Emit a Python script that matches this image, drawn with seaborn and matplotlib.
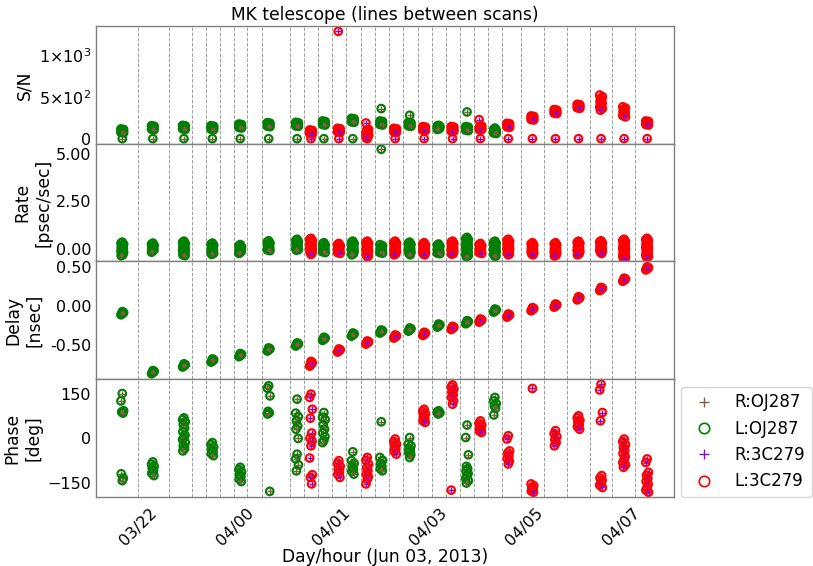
import numpy as np
import pandas as pd
import matplotlib
matplotlib.use("Agg")
import matplotlib.pyplot as plt
from matplotlib.ticker import FuncFormatter, FormatStrFormatter
from matplotlib.lines import Line2D
import seaborn as sns

# ---------------- data ----------------
scan_hours = [21.90, 22.47, 23.05, 23.58, 24.10, 24.63, 25.16, 25.42, 25.66, 25.94,
              26.20, 26.47, 26.73, 26.99, 27.26, 27.53, 27.80, 28.06, 28.33, 28.58,
              28.85, 29.10, 29.55, 29.98, 30.41, 30.83, 31.26, 31.69]
scan_source = ["OJ287"] * 7 + ["3C279", "OJ287", "3C279", "OJ287", "3C279", "OJ287",
                               "3C279", "OJ287", "3C279", "OJ287", "3C279", "OJ287",
                               "3C279", "OJ287", "3C279"] + ["3C279"] * 6

snr_values = [
    [0, 116, 110, 104, 98, 92, 86, 80, 74, 68],
    [0, 155, 149, 143, 137, 131, 125, 119, 113, 107],
    [0, 159, 153, 147, 141, 135, 129, 123, 117, 111],
    [0, 155, 149, 143, 137, 131, 125, 119, 113, 107],
    [0, 175, 169, 163, 157, 151, 145, 139, 133, 127],
    [0, 191, 185, 179, 173, 167, 161, 155, 149, 143],
    [0, 195, 189, 183, 177, 171, 165, 159, 153, 147],
    [0, 104, 98, 92, 86, 80, 74, 68, 62, 56],
    [0, 211, 205, 199, 193, 187, 181, 175, 169, 163],
    [0, 124, 118, 112, 106, 100, 94, 88, 82, 76, 1279],
    [0, 243, 237, 231, 225, 219, 213, 207, 201, 195],
    [0, 187, 110, 100, 90, 80, 70, 60, 50, 40, 30, 20, 10],
    [359, 211, 205, 199, 193, 187, 181, 175, 169, 163],
    [0, 124, 118, 112, 106, 100, 94, 88, 82, 76],
    [279, 195, 189, 183, 177, 171, 165, 159, 153, 147],
    [0, 144, 138, 132, 126, 120, 114, 108, 102, 96],
    [159, 153, 147, 141, 135, 129, 123, 117, 111],
    [0, 145, 138, 131, 124, 117, 110, 103, 96, 89, 82],
    [319, 144, 138, 132, 126, 120, 114, 108, 102, 96],
    [0, 227, 151, 145, 139, 133, 127, 121, 115, 109, 103],
    [127, 110, 104, 98, 92, 86, 80, 74, 68, 62],
    [0, 183, 177, 171, 165, 159, 153, 147, 141, 135],
    [0, 271, 265, 259, 253, 247, 241, 235, 229, 223],
    [0, 347, 341, 335, 329, 323, 317, 311, 305, 299],
    [0, 410, 404, 398, 392, 386, 380, 374, 368, 362],
    [0, 520, 500, 480, 460, 440, 420, 400, 380, 360, 340],
    [0, 380, 365, 350, 335, 320, 305, 290, 275, 260],
    [0, 211, 205, 199, 193, 187, 181, 175, 169, 163],
]

rate_values = [
    [0.35, 0.29, 0.23, 0.17, 0.11, 0.05, -0.01, -0.07, -0.13, -0.19, -0.25, -0.31, -0.37],
    [0.30, 0.24, 0.18, 0.12, 0.06, 0.0, -0.06, -0.12, -0.18],
    [0.40, 0.34, 0.28, 0.22, 0.16, 0.10, 0.04, -0.02, -0.08, -0.14, -0.20, -0.26, -0.32, -0.36],
    [0.30, 0.24, 0.18, 0.12, 0.06, 0.0, -0.06, -0.12, -0.18, -0.24, -0.30],
    [0.22, 0.16, 0.10, 0.04, -0.02, -0.08, -0.14, -0.20, -0.24],
    [0.42, 0.36, 0.30, 0.24, 0.18, 0.12, 0.06, 0.0, -0.06, -0.10],
    [0.50, 0.44, 0.38, 0.32, 0.26, 0.20, 0.14, 0.08, 0.02, -0.04, -0.08],
    [0.55, 0.49, 0.43, 0.37, 0.31, 0.25, 0.19, 0.13, 0.07, 0.01, -0.05, -0.11, -0.17, -0.23, -0.30],
    [0.32, 0.26, 0.20, 0.14, 0.08, 0.02, -0.04, -0.10, -0.16, -0.20],
    [0.28, 0.22, 0.16, 0.10, 0.04, -0.02, -0.08, -0.14, -0.20, -0.24],
    [0.40, 0.34, 0.28, 0.22, 0.16, 0.10, 0.04, -0.02, -0.08, -0.14, -0.20, -0.26, -0.32],
    [0.40, 0.34, 0.28, 0.22, 0.16, 0.10, 0.04, -0.02, -0.08, -0.14, -0.20, -0.26, -0.32, -0.38, -0.42],
    [5.24, 0.22, 0.16, 0.10, 0.04, -0.02, -0.08, -0.14, -0.20, -0.23],
    [0.40, 0.34, 0.28, 0.22, 0.16, 0.10, 0.04, -0.02, -0.08, -0.14, -0.20, -0.26, -0.32],
    [0.35, 0.29, 0.23, 0.17, 0.11, 0.05, -0.01, -0.07, -0.13, -0.19, -0.25, -0.32],
    [0.32, 0.26, 0.20, 0.14, 0.08, 0.02, -0.04, -0.10, -0.16, -0.22, -0.28, -0.32],
    [0.25, 0.19, 0.13, 0.07, 0.01, -0.05, -0.11, -0.17, -0.23, -0.26],
    [0.40, 0.34, 0.28, 0.22, 0.16, 0.10, 0.04, -0.02, -0.08, -0.14, -0.20, -0.26, -0.28],
    [0.60, 0.54, 0.48, 0.42, 0.36, 0.30, 0.24, 0.18, 0.12, 0.06, 0.0, -0.06, -0.12, -0.18,
     -0.24, -0.30, -0.36, -0.42],
    [0.28, 0.22, 0.16, 0.10, 0.04, -0.02, -0.08, -0.14, -0.20, -0.25],
    [0.40, 0.34, 0.28, 0.22, 0.16, 0.10, 0.04, -0.02, -0.08, -0.14, -0.20, -0.26, -0.32, -0.38, -0.40],
    [0.50, 0.44, 0.38, 0.32, 0.26, 0.20, 0.14, 0.08, 0.02, -0.04, -0.10, -0.16, -0.22, -0.28, -0.32],
    [0.32, 0.26, 0.20, 0.14, 0.08, 0.02, -0.04, -0.10, -0.16, -0.22, -0.28, -0.32],
    [0.32, 0.26, 0.20, 0.14, 0.08, 0.02, -0.04, -0.10, -0.16, -0.22, -0.28, -0.34, -0.38],
    [0.40, 0.34, 0.28, 0.22, 0.16, 0.10, 0.04, -0.02, -0.08, -0.14, -0.20, -0.26, -0.32],
    [0.42, 0.36, 0.30, 0.24, 0.18, 0.12, 0.06, 0.0, -0.06, -0.12, -0.18, -0.25],
    [0.50, 0.44, 0.38, 0.32, 0.26, 0.20, 0.14, 0.08, 0.02, -0.04, -0.10, -0.16, -0.22, -0.28,
     -0.34, -0.40, -0.46, -0.52, -0.55],
    [0.55, 0.49, 0.43, 0.37, 0.31, 0.25, 0.19, 0.13, 0.07, 0.01, -0.05, -0.11, -0.17, -0.23,
     -0.29, -0.35, -0.41, -0.45],
]

delay_values = [
    [-0.069, -0.109, -0.079, -0.099, -0.089],
    [-0.823, -0.863, -0.833, -0.853, -0.843],
    [-0.737, -0.777, -0.747, -0.767, -0.757],
    [-0.674, -0.714, -0.684, -0.704, -0.694],
    [-0.605, -0.645, -0.615, -0.635, -0.625],
    [-0.533, -0.573, -0.543, -0.563, -0.553],
    [-0.469, -0.509, -0.479, -0.499, -0.489],
    [-0.706, -0.766, -0.721, -0.751, -0.736],
    [-0.397, -0.437, -0.407, -0.427, -0.417],
    [-0.546, -0.586, -0.556, -0.576, -0.566],
    [-0.342, -0.382, -0.352, -0.372, -0.362],
    [-0.444, -0.484, -0.454, -0.474, -0.464],
    [-0.303, -0.343, -0.313, -0.333, -0.323],
    [-0.367, -0.407, -0.377, -0.397, -0.387],
    [-0.278, -0.318, -0.288, -0.308, -0.298],
    [-0.333, -0.373, -0.343, -0.363, -0.353],
    [-0.227, -0.267, -0.237, -0.257, -0.247],
    [-0.257, -0.297, -0.267, -0.287, -0.277],
    [-0.184, -0.224, -0.194, -0.214, -0.204],
    [-0.163, -0.203, -0.173, -0.193, -0.183],
    [-0.035, -0.075, -0.045, -0.065, -0.055],
    [-0.099, -0.139, -0.109, -0.129, -0.119],
    [-0.018, -0.058, -0.028, -0.048, -0.038],
    [0.029, -0.011, 0.019, -0.001, 0.009],
    [0.122, 0.082, 0.112, 0.092, 0.102],
    [0.241, 0.201, 0.231, 0.211, 0.221],
    [0.360, 0.320, 0.350, 0.330, 0.340],
    [0.505, 0.465, 0.495, 0.475, 0.485],
]

phase_values = [
    [150, 125, 92, 88, 84, -120, -135, -143],
    [-80, -88, -95, -102, -110, -118, -126],
    [68, 62, 55, 45, 34, 22, 10, 2, -5, -15, -26, -35, -43],
    [-15, -22, -30, -38, -45, -52, -59],
    [-98, -106, -114, -122, -130, -138, -146],
    [176, 168, 142, 90, 85, 81, -179],
    [131, 84, 72, 58, 41, 30, -1, -54, -70, -90, -110],
    [148, 137, 97, 67, 17, 0, -10, -26, -67, -123, -132, -154],
    [86, 70, 62, 45, 30, 17, 5, -8, -15],
    [-76, -85, -95, -104, -113, -122, -132],
    [-46, -76, -85, -95, -104, -112, -121],
    [-65, -75, -88, -100, -110, -121, -130, -138, -154],
    [55, -65, -75, -85, -95, -103, -110],
    [-3, -12, -20, -28, -36, -44, -54],
    [2, -20, -26, -35, -42, -48, -56, -65],
    [97, 90, 82, 75, 66, 58, 53],
    [92, 88, 85, 81],
    [179, 172, 165, 155, 146, 137, 125, 114, -175],
    [44, 2, -56, -95, -103, -111, -119, -127, -135, -143, -151],
    [58, 50, 44, 37, 30, 24, 19],
    [137, 125, 116, 109, 100, 78],
    [8, -3, -43, -50, -59, -68, -77, -87],
    [167, -154, -160, -166, -172, -178, -182],
    [25, 15, 5, -5, -15, -26],
    [75, 68, 60, 52, 45, 38, 30],
    [181, 162, 86, 58, -126, -134, -142, -150, -158, -166],
    [-3, -12, -22, -32, -42, -52, -62, -72, -82, -90, -98],
    [-70, -82, -115, -125, -135, -145, -155, -165, -175, -182],
]

# time offsets (hours) of the accumulation periods inside one scan
ap_offset_hours = [0.0, -0.025, 0.025, -0.012, 0.012, -0.02, 0.02]

boundary_hours = [22.19, 22.78, 23.20, 23.46, 23.72, 23.98, 24.23, 24.50, 25.02, 25.29,
                  25.55, 25.81, 26.08, 26.35, 26.61, 26.87, 27.13, 27.41, 27.67, 27.93,
                  28.19, 28.46, 28.72, 28.98, 29.33, 29.76, 30.19, 30.62, 31.04, 31.47]

xtick_hours = [22.2, 24.0, 25.8, 27.6, 29.4, 31.2]
xtick_labels = ["03/22", "04/00", "04/01", "04/03", "04/05", "04/07"]

panel_names = ["S/N", "Rate\n[psec/sec]", "Delay\n[nsec]", "Phase\n[deg]"]
panel_series = [snr_values, rate_values, delay_values, phase_values]
panel_ylims = [(-60, 1343), (-0.67, 5.53), (-0.934, 0.573), (-198, 198)]
panel_yticks = [[0, 500, 1000], [0.0, 2.5, 5.0], [-0.5, 0.0, 0.5], [-150, 0, 150]]
label_x = [-0.109, -0.076, -0.092, -0.093]

series_labels = ["R:OJ287", "L:OJ287", "R:3C279", "L:3C279"]
r_colors = {"OJ287": "#8c564b", "3C279": "darkviolet"}
l_colors = {"OJ287": "green", "3C279": "red"}

# ---------------- build long table ----------------
rows = []
for p, series in enumerate(panel_series):
    for i, vals in enumerate(series):
        for k, v in enumerate(vals):
            rows.append({"panel": p, "ap": k,
                         "hour": scan_hours[i] + ap_offset_hours[k % len(ap_offset_hours)],
                         "value": v, "source": scan_source[i]})
df = pd.DataFrame(rows)

# ---------------- plot ----------------
sns.set_style("white")
plt.rcParams["font.family"] = ["DejaVu Sans"]
plt.rcParams["text.color"] = "black"
plt.rcParams["axes.labelcolor"] = "black"
plt.rcParams["xtick.color"] = "black"
plt.rcParams["ytick.color"] = "black"
plt.rcParams["axes.edgecolor"] = "gray"
plt.rcParams["axes.linewidth"] = 1.0

fig, axes = plt.subplots(4, 1, sharex=True, figsize=(8.13, 5.66), dpi=100)
fig.subplots_adjust(left=0.1181, right=0.8290, top=0.9541, bottom=0.1219, hspace=0)


def sci_fmt(v, pos):
    if v == 0:
        return "0"
    e = int(np.floor(np.log10(abs(v))))
    m = v / 10 ** e
    return r"$%g{\times}10^{%d}$" % (m, e)


for p, ax in enumerate(axes):
    for b in boundary_hours:
        ax.axvline(b, color="#a0a0a0", ls="--", lw=0.7, zorder=1)
    sub = df[df["panel"] == p]
    for src in ["OJ287", "3C279"]:
        s_src = sub[sub["source"] == src]
        # points are drawn AP by AP: R cross, then L circle
        for k in sorted(s_src["ap"].unique()):
            s = s_src[s_src["ap"] == k]
            sns.scatterplot(data=s, x="hour", y="value", ax=ax, marker="+", s=20,
                            color=r_colors[src], linewidth=1.0, zorder=2, legend=False)
            sns.scatterplot(data=s, x="hour", y="value", ax=ax, marker="o", s=30,
                            facecolor="none", edgecolor=l_colors[src], color=l_colors[src],
                            linewidth=1.5, zorder=2, legend=False)
    ax.set_ylim(*panel_ylims[p])
    ax.set_yticks(panel_yticks[p])
    ax.set_ylabel(panel_names[p], fontsize=12.3, color="black")
    ax.yaxis.set_label_coords(label_x[p], 0.5)
    ax.set_xlabel("")
    ax.tick_params(direction="in", length=3.5, width=0.8, color="gray",
                   labelcolor="black", labelsize=11.5, top=False, right=False)
    for sp in ax.spines.values():
        sp.set_color("gray")

axes[0].yaxis.set_major_formatter(FuncFormatter(sci_fmt))
axes[1].yaxis.set_major_formatter(FormatStrFormatter("%.2f"))
axes[2].yaxis.set_major_formatter(FormatStrFormatter("%.2f"))

axes[-1].set_xlim(21.41, 32.19)
axes[-1].set_xticks(xtick_hours)
axes[-1].set_xticklabels(xtick_labels, rotation=45, ha="center")
axes[-1].tick_params(axis="x", pad=6)
axes[-1].set_xlabel("Day/hour (Jun 03, 2013)", fontsize=12.3, labelpad=0, color="black")
axes[0].set_title("MK telescope (lines between scans)", fontsize=12.3, pad=4, color="black")

handles = [
    Line2D([], [], ls="none", marker="+", color=r_colors["OJ287"], ms=7, mew=1.0),
    Line2D([], [], ls="none", marker="o", mfc="none", mec=l_colors["OJ287"], ms=7.5, mew=1.2),
    Line2D([], [], ls="none", marker="+", color=r_colors["3C279"], ms=7, mew=1.0),
    Line2D([], [], ls="none", marker="o", mfc="none", mec=l_colors["3C279"], ms=7.5, mew=1.2),
]
leg = axes[-1].legend(handles, series_labels, loc="lower left", bbox_to_anchor=(1.012, 0.0),
                      borderaxespad=0, fontsize=12, frameon=True)
for t in leg.get_texts():
    t.set_color("black")

fig.savefig("out.png", dpi=100)
